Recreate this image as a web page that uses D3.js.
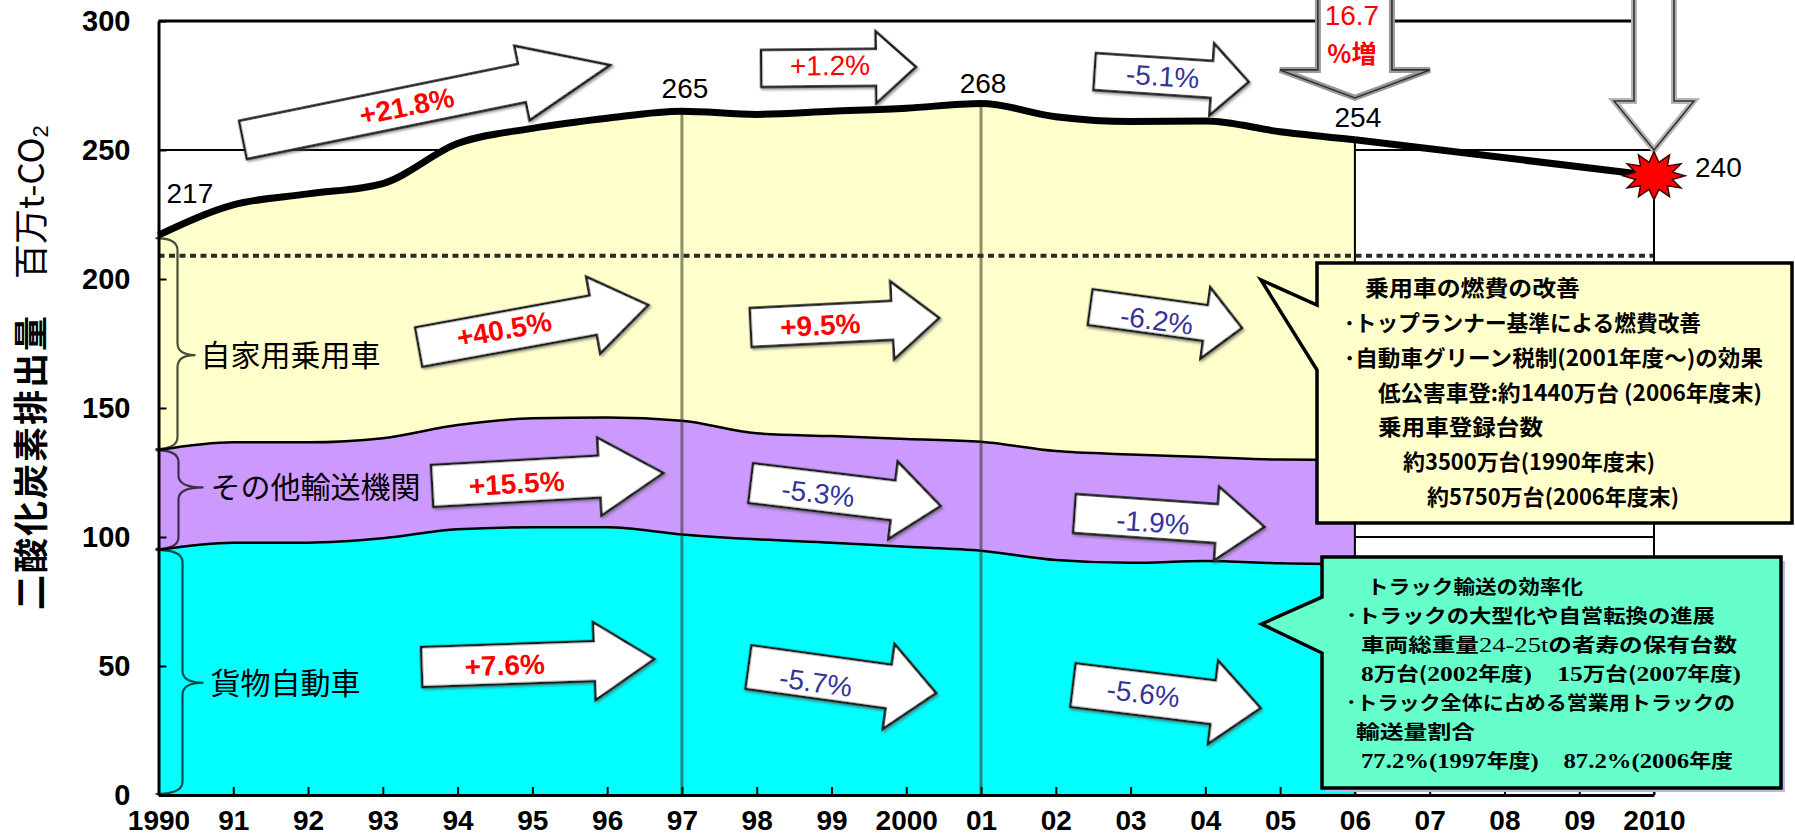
<!DOCTYPE html>
<html>
<head>
<meta charset="utf-8">
<script src="https://cdn.jsdelivr.net/npm/d3@7"></script>
<style>
  html, body { margin: 0; padding: 0; background: #ffffff; }
  svg { display: block; }
</style>
</head>
<body>
<svg id="chart" width="1795" height="835"></svg>
<script>
// ---- data: transport-sector CO2 emissions (million t-CO2), fiscal years ----
const years = [1990, 1991, 1992, 1993, 1994, 1995, 1996, 1997, 1998, 1999, 2000, 2001, 2002, 2003, 2004, 2005, 2006];
const cargoTrucks    = [95.0, 97.8, 97.8, 99.5, 103.0, 103.8, 103.8, 101.0, 99.1, 97.8, 96.2, 94.7, 91.1, 90.0, 90.7, 89.8, 89.5];
const otherTransport = [38.7, 38.9, 38.9, 38.8, 40.4, 42.2, 42.5, 44.1, 41.1, 41.3, 41.8, 42.2, 42.2, 42.0, 40.3, 40.2, 40.3];
const passengerCars  = [83.3, 92.0, 96.3, 98.7, 109.1, 112.4, 116.0, 119.9, 123.6, 125.9, 128.2, 131.1, 129.6, 129.0, 130.2, 127.1, 124.2];
const targetYears  = [2006, 2010];
const targetTotals = [254, 240];
const referenceLevel = 209;
const labelledYears = [1990, 1997, 2001, 2006];
const yTickValues = [0, 50, 100, 150, 200, 250, 300];
const xTickYears = d3.range(1990, 2011);
const categoryNames = ["自家用乗用車", "その他輸送機関", "貨物自動車"];
const changeLabels = ["+21.8%", "+40.5%", "+15.5%", "+7.6%", "+1.2%", "+9.5%", "-5.3%", "-5.7%", "-5.1%", "-6.2%", "-1.9%", "-5.6%"];
const increaseNote = ["16.7", "%増"];
const yTitleBold = "二酸化炭素排出量";
const yTitleUnit = "　百万t-CO";

const carNote = [
  "乗用車の燃費の改善",
  "･トップランナー基準による燃費改善",
  "･自動車グリーン税制(2001年度～)の効果",
  "低公害車登:約1440万台 (2006年度末)",
  "乗用車登録台数",
  "約3500万台(1990年度末)",
  "約5750万台(2006年度末)"
];
const truckNote = [
  [["トラック輸送の効率化", 0]],
  [["･トラックの大型化や自営転換の進展", 0]],
  [["車両総重量", 0], ["24-25t", 1], ["の者寿の保有台数", 0]],
  [["8", 2], ["万台(", 0], ["2002", 2], ["年度", 0], [")　15", 2], ["万台(", 0], ["2007", 2], ["年度", 0], [")", 2]],
  [["･トラック全体に占める営業用トラックの", 0]],
  [["輸送量割合", 0]],
  [["77.2%(1997", 2], ["年度", 0], [")　87.2%(2006", 2], ["年度", 0]]
];

// ---- layout ----
const svg = d3.select("#chart");
const x = d3.scaleLinear().domain([1990, 2010]).range([158.5, 1654]);
const y = d3.scaleLinear().domain([0, 300]).range([795, 21]);
const SANS = "'Liberation Sans', Arial, sans-serif";
const CJK = "'Noto Sans CJK JP', 'Noto Sans', sans-serif";
const SERIF = "'Liberation Serif', 'Times New Roman', serif";

const table = years.map((yr, i) => ({ year: yr, cargo: cargoTrucks[i], other: otherTransport[i], passenger: passengerCars[i] }));
const keys = ["cargo", "other", "passenger"];
const series = d3.stack().keys(keys)(table);
const totals = table.map(d => d.cargo + d.other + d.passenger);
const fills = { cargo: "#00FFFF", other: "#CC99FF", passenger: "#FFFFCC" };

const defs = svg.append("defs");
const sh = defs.append("filter").attr("id", "arrowShade").attr("x", "-10%").attr("y", "-30%").attr("width", "120%").attr("height", "160%");
sh.append("feDropShadow").attr("dx", 1.5).attr("dy", 2).attr("stdDeviation", 1.2).attr("flood-color", "#555").attr("flood-opacity", 0.55);

// gridlines behind the stacked areas
svg.append("g").selectAll("line").data(yTickValues.filter(v => v > 0 && v < 300)).join("line")
  .attr("x1", x(1990)).attr("x2", x(2010)).attr("y1", d => y(d)).attr("y2", d => y(d))
  .attr("stroke", "#000").attr("stroke-width", 2);

// stacked areas
const area = d3.area().x(d => x(d.data.year)).y0(d => y(d[0])).y1(d => y(d[1])).curve(d3.curveMonotoneX);
svg.append("g").selectAll("path").data(series).join("path")
  .attr("d", area).attr("fill", d => fills[d.key]);

// boundary lines between the layers
const edge = d3.line().x(d => x(d.data.year)).y(d => y(d[1])).curve(d3.curveMonotoneX);
svg.append("g").selectAll("path").data(series.slice(0, 2)).join("path")
  .attr("d", edge).attr("fill", "none").attr("stroke", "#000").attr("stroke-width", 2.5);

// dotted reference level
svg.append("line")
  .attr("x1", x(1990)).attr("x2", x(2010)).attr("y1", y(referenceLevel)).attr("y2", y(referenceLevel))
  .attr("stroke", "#2a2a2a").attr("stroke-width", 4).attr("stroke-dasharray", "6 4.5");

// period dividers at 1997 and 2001
[1997, 2001].forEach(yr => {
  const i = years.indexOf(yr);
  svg.append("line").attr("x1", x(yr)).attr("x2", x(yr)).attr("y1", y(totals[i])).attr("y2", y(0))
    .attr("stroke", "rgb(50,50,30)").attr("stroke-opacity", 0.55).attr("stroke-width", 3);
});

// end of actual data and plot frame
svg.append("line").attr("x1", x(2006)).attr("x2", x(2006)).attr("y1", y(totals[years.length - 1])).attr("y2", y(0))
  .attr("stroke", "#000").attr("stroke-width", 2);
svg.append("line").attr("x1", x(2010)).attr("x2", x(2010)).attr("y1", y(300)).attr("y2", y(0))
  .attr("stroke", "#000").attr("stroke-width", 2);
svg.append("line").attr("x1", x(1990)).attr("x2", x(2010)).attr("y1", y(300)).attr("y2", y(300))
  .attr("stroke", "#000").attr("stroke-width", 3);

// axes
const yAxis = d3.axisLeft(y).tickValues(yTickValues).tickSizeInner(-8).tickSizeOuter(0).tickPadding(28);
const gy = svg.append("g").attr("transform", `translate(${x(1990)},0)`).call(yAxis);
gy.select(".domain").attr("stroke-width", 3);
gy.selectAll(".tick line").attr("stroke-width", 2);
gy.selectAll("text").attr("font-family", SANS).attr("font-size", 29).attr("font-weight", "bold").attr("fill", "#000");

const fmtYear = yr => (yr === 1990 || yr === 2000 || yr === 2010) ? String(yr) : String(yr).slice(2);
const xAxis = d3.axisBottom(x).tickValues(xTickYears).tickFormat(fmtYear).tickSizeInner(-8).tickSizeOuter(0).tickPadding(15);
const gx = svg.append("g").attr("transform", `translate(0,${y(0)})`).call(xAxis);
gx.select(".domain").attr("stroke-width", 3);
gx.selectAll(".tick line").attr("stroke-width", 2);
gx.selectAll("text").attr("font-family", SANS).attr("font-size", 28).attr("font-weight", "bold").attr("fill", "#000");

// total emissions line and projection to 2010
const totalLine = d3.line().x(d => x(d.data.year)).y(d => y(d[1])).curve(d3.curveMonotoneX);
svg.append("path").attr("d", totalLine(series[2])).attr("fill", "none").attr("stroke", "#000").attr("stroke-width", 7);
const projLine = d3.line().x(d => x(d[0])).y(d => y(d[1]));
svg.append("path").attr("d", projLine(d3.zip(targetYears, targetTotals))).attr("fill", "none").attr("stroke", "#000").attr("stroke-width", 7);

// change arrows: tail, tip and label anchor in (year, value)
const arrowLayout = [
  { from: [1991.13, 253.9], to: [1996.04, 282.9], at: [1993.32, 267.1], t: 19.5, h: 38, k: 90, bold: true },
  { from: [1993.48, 173.6], to: [1996.55, 189.9], at: [1994.62, 180.6], t: 20, h: 39, k: 56, bold: true },
  { from: [1993.66, 119.8], to: [1996.75, 124.8], at: [1994.79, 120.9], t: 21, h: 39, k: 64, bold: true },
  { from: [1993.52, 49.6],  to: [1996.63, 52.7],  at: [1994.63, 50.4],  t: 20, h: 39, k: 60, bold: true },
  { from: [1998.06, 281.6], to: [2000.13, 282.2], at: [1998.98, 282.9], t: 18.5, h: 36, k: 40, bold: false },
  { from: [1997.92, 181.2], to: [2000.44, 184.9], at: [1998.85, 182.2], t: 19.5, h: 39, k: 47, bold: true },
  { from: [1997.92, 120.9], to: [2000.46, 112.0], at: [1998.82, 117.1], t: 20, h: 39, k: 48, bold: false },
  { from: [1997.89, 49.6],  to: [2000.40, 39.5],  at: [1998.79, 43.8],  t: 22, h: 43, k: 48, bold: false },
  { from: [2002.52, 280.4], to: [2004.58, 276.4], at: [2003.43, 278.7], t: 18.5, h: 36, k: 37, bold: false },
  { from: [2002.46, 189.1], to: [2004.49, 181.0], at: [2003.35, 184.1], t: 18, h: 36, k: 37, bold: false },
  { from: [2002.25, 109.1], to: [2004.79, 103.9], at: [2003.30, 105.8], t: 19.5, h: 37, k: 48, bold: false },
  { from: [2002.23, 42.6],  to: [2004.74, 33.7],  at: [2003.17, 39.5],  t: 22, h: 42, k: 48, bold: false }
];
const px = p => [x(p[0]), y(p[1])];
const arrowPath = (L, t, h, k) => `M0,${-t}L${L - k},${-t}L${L - k},${-h}L${L},0L${L - k},${h}L${L - k},${t}L0,${t}Z`;

const gArrows = svg.append("g");
arrowLayout.forEach((a, i) => {
  const p0 = px(a.from), p1 = px(a.to), pc = px(a.at);
  const L = Math.hypot(p1[0] - p0[0], p1[1] - p0[1]);
  const ang = Math.atan2(p1[1] - p0[1], p1[0] - p0[0]) * 180 / Math.PI;
  gArrows.append("path").attr("d", arrowPath(L, a.t, a.h, a.k))
    .attr("transform", `translate(${p0[0]},${p0[1]}) rotate(${ang})`)
    .attr("fill", "#fff").attr("stroke", "#1e1e1e").attr("stroke-width", 2.5)
    .attr("stroke-linejoin", "miter").attr("filter", "url(#arrowShade)");
  const label = changeLabels[i];
  gArrows.append("text").text(label)
    .attr("transform", `translate(${pc[0]},${pc[1]}) rotate(${ang})`)
    .attr("text-anchor", "middle").attr("dy", "0.36em")
    .attr("font-family", SANS).attr("font-size", 28)
    .attr("font-weight", a.bold ? "bold" : "normal")
    .attr("fill", label.startsWith("+") ? "#FF0000" : "#333399");
});

// downward arrows from the top edge
function downArrow(yr, tipVal, t, h, k, edgeCol) {
  const cx = x(yr), tipY = y(tipVal), top = -6;
  const d = `M${cx - t},${top}L${cx - t},${tipY - k}L${cx - h},${tipY - k}L${cx},${tipY}L${cx + h},${tipY - k}L${cx + t},${tipY - k}L${cx + t},${top}`;
  svg.append("path").attr("d", d).attr("fill", "#fff").attr("stroke", edgeCol).attr("stroke-width", 6);
  svg.append("path").attr("d", d).attr("fill", "none").attr("stroke", "#333").attr("stroke-width", 1.6);
}
downArrow(2006, 270.2, 37, 75, 28, "#9a9a9a");
downArrow(2010, 250, 20, 40, 49, "#b5b5b5");
svg.append("text").text(increaseNote[0]).attr("x", x(2006) - 3).attr("y", 25)
  .attr("text-anchor", "middle").attr("font-family", SANS).attr("font-size", 28).attr("fill", "#FF0000");
svg.append("text").text(increaseNote[1]).attr("x", x(2006) - 3).attr("y", 63)
  .attr("text-anchor", "middle").attr("font-family", CJK).attr("font-size", 25).attr("font-weight", "bold").attr("fill", "#FF0000");

// red burst at the 2010 target
const burst = (() => {
  const n = 12, pts = [];
  for (let i = 0; i < 2 * n; i++) {
    const a = i * Math.PI / n - Math.PI / 2;
    const rx = i % 2 ? 19 : 31, ry = i % 2 ? 14 : 24;
    pts.push([Math.cos(a) * rx, Math.sin(a) * ry]);
  }
  return "M" + pts.map(p => p.join(",")).join("L") + "Z";
})();
const last = targetYears.length - 1;
svg.append("path").attr("d", burst)
  .attr("transform", `translate(${x(targetYears[last])},${y(targetTotals[last])})`)
  .attr("fill", "#FF0000").attr("stroke", "#400000").attr("stroke-width", 1.5);

// total value labels
const valueOffsets = { 1990: [8, -32, "start"], 1997: [3, -13, "middle"], 2001: [2, -11, "middle"], 2006: [3, -13, "middle"] };
labelledYears.forEach(yr => {
  const i = years.indexOf(yr), o = valueOffsets[yr];
  svg.append("text").text(Math.round(totals[i]))
    .attr("x", x(yr) + o[0]).attr("y", y(totals[i]) + o[1]).attr("text-anchor", o[2])
    .attr("font-family", SANS).attr("font-size", 28).attr("fill", "#000");
});
svg.append("text").text(targetTotals[last])
  .attr("x", x(targetYears[last]) + 41).attr("y", y(targetTotals[last]) + 1)
  .attr("font-family", SANS).attr("font-size", 28).attr("fill", "#000");

// braces and category names at the left edge
const bandTop = [series[2][0][1], series[1][0][1], series[0][0][1]];
const bandBot = [series[2][0][0], series[1][0][0], series[0][0][0]];
const braceTip = [170.5, 119.2, 43.5];
const braceBody = [19, 20, 24];
const braceReach = [37, 45, 45];
const textStart = [42, 52, 52];
categoryNames.forEach((name, i) => {
  const x0 = x(1990) - 3, bx = x(1990) + braceBody[i], tx = x(1990) + braceReach[i];
  const yt = y(bandTop[i]) + (i === 0 ? 3 : 0), yb = y(bandBot[i]) - 1, ym = y(braceTip[i]);
  const r = 12;
  const d = `M${x0},${yt}Q${bx},${yt} ${bx},${yt + r}L${bx},${ym - r}Q${bx},${ym} ${tx},${ym}` +
            `Q${bx},${ym} ${bx},${ym + r}L${bx},${yb - r}Q${bx},${yb} ${x0},${yb}`;
  svg.append("path").attr("d", d).attr("fill", "none").attr("stroke", "#000").attr("stroke-opacity", 0.7).attr("stroke-width", 2.2);
  svg.append("text").text(name).attr("x", x(1990) + textStart[i]).attr("y", ym + 11)
    .attr("font-family", CJK).attr("font-size", 30).attr("fill", "#000");
});

// callout boxes
const carBox = { left: 1317, top: 263, right: 1792, bottom: 523, tip: [1261, 280], base: [305, 370] };
const truckBox = { left: 1322, top: 557, right: 1781, bottom: 788, tip: [1261.5, 624], base: [597, 653] };
const calloutPath = b => `M${b.left},${b.top}H${b.right}V${b.bottom}H${b.left}V${b.base[1]}L${b.tip[0]},${b.tip[1]}L${b.left},${b.base[0]}Z`;

svg.append("path").attr("d", calloutPath(truckBox)).attr("transform", "translate(4,4)").attr("fill", "#B9B9E8");
svg.append("path").attr("d", calloutPath(carBox)).attr("fill", "#FFFFCC").attr("stroke", "#000").attr("stroke-width", 3.5).attr("stroke-linejoin", "miter");
svg.append("path").attr("d", calloutPath(truckBox)).attr("fill", "#66FFCC").attr("stroke", "#000").attr("stroke-width", 3.5).attr("stroke-linejoin", "miter");

const carLines = [[1365, 296, 1580], [1344, 331, 1701], [1344, 366, 1763], [1378, 401, 1762], [1378, 435, 1543], [1403, 470, 1655], [1427, 505, 1679]];
carNote.forEach((s, i) => {
  const [lx, ly, rx] = carLines[i];
  svg.append("text").text(s).attr("x", lx).attr("y", ly)
    .attr("textLength", rx - lx).attr("lengthAdjust", "spacingAndGlyphs")
    .attr("font-family", CJK).attr("font-size", 22).attr("font-weight", "bold").attr("fill", "#000");
});

const truckLines = [[1367, 594, 1583], [1346, 623, 1715], [1361, 652, 1737], [1361, 681, 1741], [1346, 710, 1735], [1356, 739, 1475], [1361, 768, 1733]];
const runStyle = [
  { f: CJK, w: "bold", s: 19.5 },
  { f: SERIF, w: "normal", s: 22 },
  { f: SERIF, w: "bold", s: 22 }
];
truckNote.forEach((runs, i) => {
  const [lx, ly, rx] = truckLines[i];
  const t = svg.append("text").attr("x", lx).attr("y", ly)
    .attr("textLength", rx - lx).attr("lengthAdjust", "spacingAndGlyphs")
    .attr("font-size", 19.5).attr("fill", "#000");
  runs.forEach(([s, k]) => {
    t.append("tspan").text(s).attr("font-family", runStyle[k].f).attr("font-weight", runStyle[k].w)
      .attr("font-size", runStyle[k].s);
  });
});

// y-axis title
const title = svg.append("text").attr("transform", "translate(44,610) rotate(-90)")
  .attr("font-family", CJK).attr("font-size", 35).attr("fill", "#000");
title.append("tspan").text(yTitleBold).attr("font-weight", "bold").attr("letter-spacing", 2);
title.append("tspan").text(yTitleUnit).attr("font-weight", "normal").attr("font-family", CJK + "," + SANS);
title.append("tspan").text("2").attr("font-family", SANS).attr("font-size", 22).attr("dy", 4);
</script>
</body>
</html>
